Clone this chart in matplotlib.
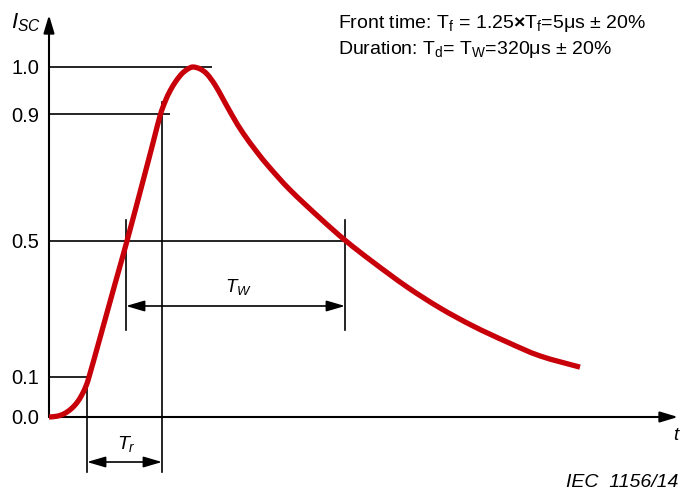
import numpy as np
import matplotlib
matplotlib.use('Agg')
import matplotlib.pyplot as plt
from matplotlib.path import Path
from matplotlib.patches import PathPatch
from matplotlib.transforms import IdentityTransform

plt.rcParams['font.family'] = ['Liberation Sans', 'DejaVu Sans']
plt.rcParams['mathtext.fontset'] = 'custom'
plt.rcParams['mathtext.rm'] = 'Liberation Sans'
plt.rcParams['mathtext.it'] = 'Liberation Sans:italic'
plt.rcParams['mathtext.bf'] = 'Liberation Sans:bold'

# ---- data (time in arbitrary drawing units, current normalised) ----
t_vals = [0, 8, 15, 22, 28, 33, 37, 40, 51, 66, 78, 94, 104, 111, 116, 121,
          127, 133, 139, 144,
          151, 158, 166, 174, 184, 194, 208, 221, 241, 271, 297, 324, 358,
          391, 424, 458, 491, 531]
i_vals = [0, 0.002, 0.008, 0.02, 0.036, 0.056, 0.0775, 0.1, 0.215, 0.374, 0.5,
          0.689, 0.809, 0.894, 0.926, 0.949, 0.970, 0.986, 0.996, 1.0,
          0.996, 0.985, 0.962, 0.932, 0.891, 0.840, 0.780, 0.730, 0.661,
          0.572, 0.5, 0.438, 0.365, 0.303, 0.25, 0.203, 0.162, 0.129]

tick_vals = [0.0, 0.1, 0.5, 0.9, 1.0]
tick_labels = ['0.0', '0.1', '0.5', '0.9', '1.0']
ref_levels = [0.1, 0.5, 0.9, 1.0]
ref_ends = [38, 297, 121, 163]
tr_bounds = [38, 113]
tw_bounds = [77, 296]

# schematic (non-linear) vertical scale of the drawing
scale_vals = [-0.19, 0.0, 0.1, 0.5, 0.9, 1.0, 1.2]
scale_pos = [-76, 0, 40, 176, 303, 350, 444]


def fwd(v):
    return np.interp(v, scale_vals, scale_pos)


def inv(p):
    return np.interp(p, scale_pos, scale_vals)


fig = plt.figure(figsize=(6.8, 4.93), dpi=100)
ax = fig.add_axes([49 / 680, 0, 1 - 49 / 680, 1])
ax.set_yscale('function', functions=(fwd, inv))
ax.set_xlim(0, 631)
ax.set_ylim(-0.19, float(inv(417)))
for s in ax.spines.values():
    s.set_visible(False)
ax.set_xticks([])
ax.set_yticks(tick_vals)
ax.set_yticklabels(tick_labels)
ax.yaxis.set_minor_locator(matplotlib.ticker.NullLocator())
ax.tick_params(axis='y', length=0, pad=7, labelsize=14.5)

lc = 'black'
lw = 1.2
arrow_axis = '-|>,head_length=0.6,head_width=0.18'

# axes with arrows
ax.annotate('', xy=(0, float(inv(402))), xytext=(0, 0),
            arrowprops=dict(arrowstyle=arrow_axis, color=lc, lw=1.5,
                            mutation_scale=18, shrinkA=0, shrinkB=0),
            annotation_clip=False)
ax.annotate('', xy=(629, 0), xytext=(0, 0),
            arrowprops=dict(arrowstyle=arrow_axis, color=lc, lw=1.5,
                            mutation_scale=18, shrinkA=0, shrinkB=0),
            annotation_clip=False)

# reference lines
for lev, end in zip(ref_levels, ref_ends):
    ax.plot([0, end], [lev, lev], color=lc, lw=lw, solid_capstyle='butt')

# vertical marker lines
y_low = float(inv(-55))
ax.plot([tr_bounds[0]] * 2, [0.1, y_low], color=lc, lw=lw)
ax.plot([tr_bounds[1]] * 2, [float(inv(315)), y_low], color=lc, lw=lw)
for x in tw_bounds:
    ax.plot([x, x], [float(inv(197)), float(inv(87))], color=lc, lw=lw)

arrow_dim = '<|-|>,head_length=0.75,head_width=0.22'
ax.annotate('', xy=(tr_bounds[0], float(inv(-45))), xytext=(tr_bounds[1], float(inv(-45))),
            arrowprops=dict(arrowstyle=arrow_dim, color=lc, lw=lw,
                            mutation_scale=15, shrinkA=0, shrinkB=0))
ax.annotate('', xy=(tw_bounds[0], float(inv(111))), xytext=(tw_bounds[1], float(inv(111))),
            arrowprops=dict(arrowstyle=arrow_dim, color=lc, lw=lw,
                            mutation_scale=15, shrinkA=0, shrinkB=0))

# curve: smooth Bezier path through the data points (in display space)
pts = ax.transData.transform(np.column_stack([t_vals, i_vals]))
n = len(pts)
verts = [pts[0]]
codes = [Path.MOVETO]
for k in range(n - 1):
    p0 = pts[k - 1] if k > 0 else pts[k]
    p1 = pts[k]
    p2 = pts[k + 1]
    p3 = pts[k + 2] if k + 2 < n else pts[k + 1]
    c1 = p1 + (p2 - p0) / 6.0
    c2 = p2 - (p3 - p1) / 6.0
    verts += [c1, c2, p2]
    codes += [Path.CURVE4] * 3
curve = PathPatch(Path(verts, codes), transform=IdentityTransform(),
                  fill=False, edgecolor='#C8000A', lw=3.8, capstyle='butt',
                  joinstyle='round', zorder=5)
ax.add_patch(curve)


# texts (figure pixel coordinates)
def ftext(x, y, s, **kw):
    fig.text(x / 680, 1 - y / 493, s, **kw)


ftext(338, 28, r'Front time: T$_\mathregular{f}$ = 1.25$\mathbf{\times}$T$_\mathregular{f}$=5μs ± 20%',
      fontsize=14, va='baseline', ha='left')
ftext(338, 54, r'Duration: T$_\mathregular{d}$= T$_\mathregular{W}$=320μs ± 20%',
      fontsize=14, va='baseline', ha='left')
ftext(11, 28, r'$I_{SC}$', fontsize=16, va='baseline', ha='left')
ftext(673, 440, r'$t$', fontsize=13.5, va='baseline', ha='left')
ftext(678, 487, 'IEC  1156/14', fontsize=14, style='italic', va='baseline', ha='right')
ftext(126, 449, r'$T_r$', fontsize=14, va='baseline', ha='center')
ftext(238, 292, r'$T_W$', fontsize=13.5, va='baseline', ha='center')

fig.savefig('out.png', dpi=100)
